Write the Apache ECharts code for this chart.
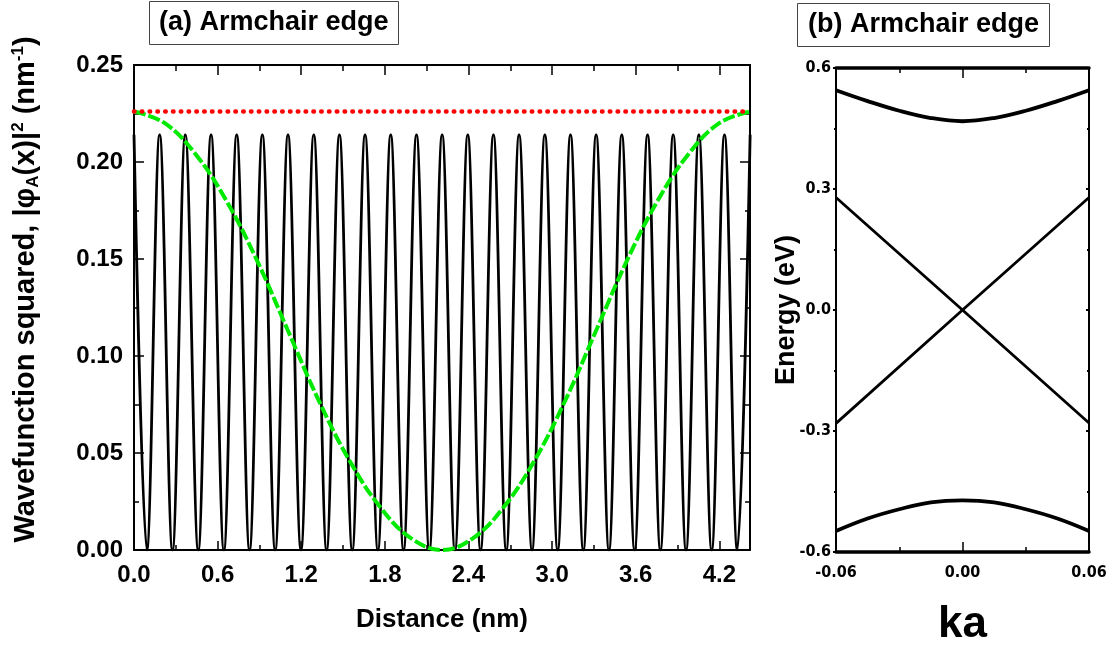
<!DOCTYPE html>
<html>
<head>
<meta charset="utf-8">
<script src="https://cdn.jsdelivr.net/npm/echarts@6/dist/echarts.min.js"></script>
<style>
html,body{margin:0;padding:0;background:#fff;}
#chart{width:1107px;height:645px;}
</style>
</head>
<body>
<div id="chart"></div>
<script>
// ---------- Panel (a) data ----------
const distPeakX = [0.000, 0.184, 0.368, 0.553, 0.737, 0.921, 1.105, 1.290, 1.474, 1.658, 1.842, 2.027, 2.211,
  2.395, 2.579, 2.763, 2.948, 3.132, 3.316, 3.500, 3.685, 3.869, 4.053, 4.237, 4.421];
const peakHeights = [0.214, 0.214, 0.214, 0.214, 0.214, 0.214, 0.214, 0.214, 0.214, 0.214, 0.214, 0.214, 0.214,
  0.214, 0.214, 0.214, 0.214, 0.214, 0.214, 0.214, 0.214, 0.214, 0.214, 0.214, 0.214];
const distZeroX = [0.092, 0.276, 0.461, 0.645, 0.829, 1.013, 1.198, 1.382, 1.566, 1.750, 1.934, 2.119,
  2.303, 2.487, 2.671, 2.856, 3.040, 3.224, 3.408, 3.592, 3.777, 3.961, 4.145, 4.329];
const zeroHeights = [0, 0, 0, 0, 0, 0, 0, 0, 0, 0, 0, 0, 0, 0, 0, 0, 0, 0, 0, 0, 0, 0, 0, 0];

const envelopeX = [0.000, 0.221, 0.442, 0.663, 0.884, 1.105, 1.326, 1.547, 1.768, 1.989, 2.210,
  2.431, 2.652, 2.873, 3.094, 3.315, 3.536, 3.757, 3.978, 4.199, 4.420];
const envelopeY = [0.226, 0.220, 0.204, 0.180, 0.149, 0.113, 0.077, 0.046, 0.022, 0.006, 0.000,
  0.006, 0.022, 0.046, 0.077, 0.113, 0.149, 0.180, 0.204, 0.220, 0.226];

const averageX = [0.000, 4.420];
const averageY = [0.226, 0.226];

const distTickLabels = ['0.0', '0.6', '1.2', '1.8', '2.4', '3.0', '3.6', '4.2'];
const waveTickLabels = ['0.00', '0.05', '0.10', '0.15', '0.20', '0.25'];

// ---------- Panel (b) data ----------
const kaX = [-0.06, -0.045, -0.03, -0.015, 0.0, 0.015, 0.03, 0.045, 0.06];
const bandUpper = [0.545, 0.518, 0.494, 0.476, 0.468, 0.476, 0.494, 0.518, 0.545];
const bandLower = [-0.548, -0.517, -0.494, -0.477, -0.472, -0.477, -0.494, -0.517, -0.548];
const kaLinX = [-0.06, 0.0, 0.06];
const bandLinDown = [0.279, 0.0, -0.280];
const bandLinUp = [-0.281, 0.0, 0.279];

const kaTickLabels = ['-0.06', '0.00', '0.06'];
const energyTickLabels = ['-0.6', '-0.3', '0.0', '0.3', '0.6'];

// ---------- build ----------
const zip = (xs, ys) => xs.map((x, i) => [x, ys[i]]);
const oscData = [];
for (let i = 0; i < distPeakX.length; i++) {
  oscData.push([distPeakX[i], peakHeights[i]]);
  if (i < distZeroX.length) oscData.push([distZeroX[i], zeroHeights[i]]);
}

const FONT = '"Liberation Sans", Arial, Helvetica, sans-serif';
const NARROW = '"Liberation Sans Narrow", "Arial Narrow", "DejaVu Sans Condensed", "Liberation Sans", sans-serif';
const black = '#000';

function pick(labels, v, min, step) {
  const idx = Math.round((v - min) / step);
  if (Math.abs((v - min) / step - idx) > 1e-6) return '';
  return labels[idx] !== undefined ? labels[idx] : '';
}

const chart = echarts.init(document.getElementById('chart'), null, {renderer: 'canvas'});

const option = {
  animation: false,
  backgroundColor: '#fff',
  title: [
    {
      text: '(a) Armchair edge', left: 149, top: 1,
      padding: [8, 10, 9, 10], borderWidth: 1, borderColor: '#444',
      textStyle: {fontSize: 27, fontWeight: 'bold', color: black, fontFamily: FONT}
    },
    {
      text: '(b) Armchair edge', left: 797, top: 3,
      padding: [8, 11, 9, 11], borderWidth: 1, borderColor: '#444',
      textStyle: {fontSize: 27, fontWeight: 'bold', color: black, fontFamily: FONT}
    }
  ],
  grid: [
    {left: 134, top: 65, width: 616, height: 485, outerBoundsMode: 'none', containLabel: false},
    {left: 836, top: 68, width: 253, height: 484, outerBoundsMode: 'none', containLabel: false}
  ],
  xAxis: [
    {
      gridIndex: 0, type: 'value', position: 'bottom', min: 0, max: 4.42, interval: 0.6,
      axisLine: {show: true, onZero: false, lineStyle: {color: black, width: 2}},
      axisTick: {show: true, inside: true, length: 9, lineStyle: {color: black, width: 1.5}},
      splitLine: {show: false},
      axisLabel: {
        show: true, margin: 13, fontSize: 24, fontWeight: 'bold', color: black, fontFamily: FONT,
        showMaxLabel: false,
        formatter: v => pick(distTickLabels, v, 0, 0.6)
      },
      name: 'Distance (nm)', nameLocation: 'middle', nameGap: 57, nameMoveOverlap: false,
      nameTextStyle: {fontSize: 26, fontWeight: 'bold', color: black, fontFamily: FONT}
    },
    {
      gridIndex: 0, type: 'value', position: 'bottom', min: 0, max: 4.42, interval: 0.3,
      axisLine: {show: false, onZero: false},
      axisTick: {show: true, inside: true, length: 5, lineStyle: {color: black, width: 1.5}},
      axisLabel: {show: false}, splitLine: {show: false}
    },
    {
      gridIndex: 0, type: 'value', position: 'top', min: 0, max: 4.42, interval: 0.6,
      axisLine: {show: true, onZero: false, lineStyle: {color: black, width: 2}},
      axisTick: {show: true, inside: true, length: 10, lineStyle: {color: black, width: 1.5}},
      axisLabel: {show: false}, splitLine: {show: false}
    },
    {
      gridIndex: 0, type: 'value', position: 'top', min: 0, max: 4.42, interval: 0.3,
      axisLine: {show: false, onZero: false},
      axisTick: {show: true, inside: true, length: 6, lineStyle: {color: black, width: 1.5}},
      axisLabel: {show: false}, splitLine: {show: false}
    },
    {
      gridIndex: 1, type: 'value', position: 'bottom', min: -0.06, max: 0.06, interval: 0.06,
      axisLine: {show: true, onZero: false, lineStyle: {color: black, width: 3.5}},
      axisTick: {show: true, inside: true, length: 10, lineStyle: {color: black, width: 1.5}},
      minorTick: {show: true, splitNumber: 2, length: 5, lineStyle: {color: black, width: 1.5}},
      splitLine: {show: false}, minorSplitLine: {show: false},
      axisLabel: {
        show: true, margin: 13, fontSize: 16, fontWeight: 'bold', color: black, fontFamily: NARROW,
        formatter: v => pick(kaTickLabels, v, -0.06, 0.06)
      },
      name: 'ka', nameLocation: 'middle', nameGap: 51, nameMoveOverlap: false,
      nameTextStyle: {fontSize: 44, fontWeight: 'bold', color: black, fontFamily: FONT}
    },
    {
      gridIndex: 1, type: 'value', position: 'top', min: -0.06, max: 0.06, interval: 0.06,
      axisLine: {show: true, onZero: false, lineStyle: {color: black, width: 3.5}},
      axisTick: {show: true, inside: true, length: 10, lineStyle: {color: black, width: 1.5}},
      minorTick: {show: true, splitNumber: 2, length: 5, lineStyle: {color: black, width: 1.5}},
      splitLine: {show: false}, minorSplitLine: {show: false},
      axisLabel: {show: false}
    }
  ],
  yAxis: [
    {
      gridIndex: 0, type: 'value', position: 'left', min: 0, max: 0.25, interval: 0.05,
      axisLine: {show: true, onZero: false, lineStyle: {color: black, width: 2}},
      axisTick: {show: true, inside: true, length: 10, lineStyle: {color: black, width: 1.5}},
      minorTick: {show: true, splitNumber: 2, length: 5, lineStyle: {color: black, width: 1.5}},
      splitLine: {show: false}, minorSplitLine: {show: false},
      axisLabel: {
        show: true, margin: 11, fontSize: 24, fontWeight: 'bold', color: black, fontFamily: FONT,
        formatter: v => pick(waveTickLabels, v, 0, 0.05)
      },
      name: '{a|Wavefunction squared, |φ}{s|A}{a|(x)|}{p|2}{a| (nm}{p|-1}{a|)}',
      nameLocation: 'middle', nameRotate: 90, nameGap: 92, nameMoveOverlap: false,
      nameTextStyle: {
        fontSize: 29, fontWeight: 'bold', color: black, fontFamily: FONT,
        padding: [0, 0, 0, 36],
        rich: {
          a: {fontSize: 29, fontWeight: 'bold', color: black, fontFamily: FONT, lineHeight: 32, verticalAlign: 'middle'},
          s: {fontSize: 17, fontWeight: 'bold', color: black, fontFamily: FONT, lineHeight: 17, verticalAlign: 'bottom'},
          p: {fontSize: 17, fontWeight: 'bold', color: black, fontFamily: FONT, lineHeight: 17, verticalAlign: 'top'}
        }
      }
    },
    {
      gridIndex: 0, type: 'value', position: 'right', min: 0, max: 0.25, interval: 0.05,
      axisLine: {show: true, onZero: false, lineStyle: {color: black, width: 2}},
      axisTick: {show: true, inside: true, length: 10, lineStyle: {color: black, width: 1.5}},
      minorTick: {show: true, splitNumber: 2, length: 5, lineStyle: {color: black, width: 1.5}},
      splitLine: {show: false}, minorSplitLine: {show: false},
      axisLabel: {show: false}
    },
    {
      gridIndex: 1, type: 'value', position: 'left', min: -0.6, max: 0.6, interval: 0.3,
      axisLine: {show: true, onZero: false, lineStyle: {color: black, width: 2}},
      axisTick: {show: true, inside: false, length: 3, lineStyle: {color: black, width: 2}},
      minorTick: {show: true, splitNumber: 2, length: 2, lineStyle: {color: black, width: 2}},
      splitLine: {show: false}, minorSplitLine: {show: false},
      axisLabel: {
        show: true, margin: 5, fontSize: 16, fontWeight: 'bold', color: black, fontFamily: NARROW,
        formatter: v => pick(energyTickLabels, v, -0.6, 0.3)
      },
      name: 'Energy (eV)', nameLocation: 'middle', nameRotate: 90, nameGap: 36, nameMoveOverlap: false,
      nameTextStyle: {fontSize: 27, fontWeight: 'bold', color: black, fontFamily: FONT}
    },
    {
      gridIndex: 1, type: 'value', position: 'right', min: -0.6, max: 0.6, interval: 0.3,
      axisLine: {show: true, onZero: false, lineStyle: {color: black, width: 2}},
      axisTick: {show: true, inside: true, length: 3, lineStyle: {color: black, width: 2}},
      minorTick: {show: true, splitNumber: 2, length: 2, lineStyle: {color: black, width: 2}},
      splitLine: {show: false}, minorSplitLine: {show: false},
      axisLabel: {show: false}
    }
  ],
  series: [
    {
      name: 'wavefunction', type: 'line', xAxisIndex: 0, yAxisIndex: 0,
      data: oscData, smooth: 0.36, symbol: 'none', z: 2,
      lineStyle: {color: black, width: 2.8}
    },
    {
      name: 'envelope', type: 'line', xAxisIndex: 0, yAxisIndex: 0,
      data: zip(envelopeX, envelopeY), smooth: 0.4, symbol: 'none', z: 3,
      lineStyle: {color: '#00ea00', width: 4, type: [12, 3]}
    },
    {
      name: 'average', type: 'line', xAxisIndex: 0, yAxisIndex: 0,
      data: zip(averageX, averageY), symbol: 'none', z: 4,
      lineStyle: {color: '#ff0000', width: 4.5, type: [0.5, 7.3], cap: 'round'}
    },
    {
      name: 'upper', type: 'line', xAxisIndex: 4, yAxisIndex: 2,
      data: zip(kaX, bandUpper), smooth: 0.4, symbol: 'none',
      lineStyle: {color: black, width: 3.8}
    },
    {
      name: 'lower', type: 'line', xAxisIndex: 4, yAxisIndex: 2,
      data: zip(kaX, bandLower), smooth: 0.4, symbol: 'none',
      lineStyle: {color: black, width: 3.8}
    },
    {
      name: 'linDown', type: 'line', xAxisIndex: 4, yAxisIndex: 2,
      data: zip(kaLinX, bandLinDown), symbol: 'none',
      lineStyle: {color: black, width: 2.8}
    },
    {
      name: 'linUp', type: 'line', xAxisIndex: 4, yAxisIndex: 2,
      data: zip(kaLinX, bandLinUp), symbol: 'none',
      lineStyle: {color: black, width: 2.8}
    }
  ]
};
chart.setOption(option);
</script>
</body>
</html>
